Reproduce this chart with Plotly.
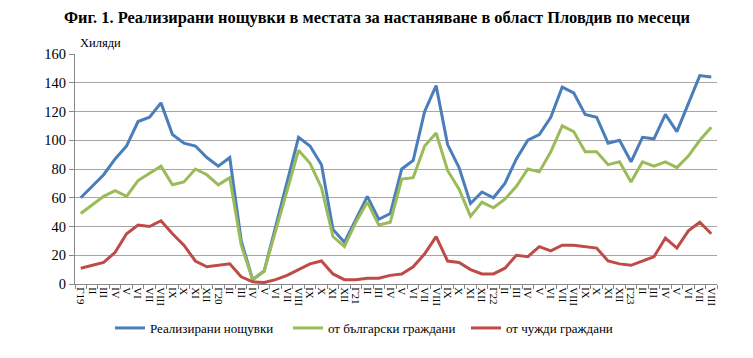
import plotly.graph_objects as go

months = ["I", "II", "III", "IV", "V", "VI", "VII", "VIII", "IX", "X", "XI", "XII"]
years = ["19", "20", "21", "22", "23"]
periods = [f"{y}-{m}" for y in years for m in months][:56]
tick_labels = [("Г" + p.split("-")[0]) if p.endswith("-I") else p.split("-")[1] for p in periods]

total = [60, 68, 76, 87, 96, 113, 116, 126, 104, 98, 96, 88,
         82, 88, 30, 3, 9, 40, 70, 102, 96, 83, 38, 29,
         45, 61, 45, 49, 80, 86, 120, 138, 97, 81, 56, 64,
         60, 70, 87, 100, 104, 116, 137, 133, 118, 116, 98, 100,
         85, 102, 101, 118, 106, 126, 145, 144]
bulgarian = [49, 55, 61, 65, 61, 72, 77, 82, 69, 71, 80, 76,
             69, 74, 27, 3, 9, 37, 65, 93, 84, 67, 33, 26,
             43, 57, 41, 43, 73, 74, 96, 105, 79, 66, 47, 57,
             53, 59, 68, 80, 78, 92, 110, 106, 92, 92, 83, 85,
             71, 85, 82, 85, 81, 89, 100, 109]
foreign = [11, 13, 15, 22, 35, 41, 40, 44, 35, 27, 16, 12,
           13, 14, 5, 1.5, 1, 3, 6, 10, 14, 16, 7, 3,
           3, 4, 4, 6, 7, 12, 21, 33, 16, 15, 10, 7,
           7, 11, 20, 19, 26, 23, 27, 27, 26, 25, 16, 14,
           13, 16, 19, 32, 25, 37, 43, 35]

series = [
    ("Реализирани нощувки", total, "#4A7EBB"),
    ("от български граждани", bulgarian, "#9BBB59"),
    ("от чужди граждани", foreign, "#BE4B48"),
]

SERIF = "Liberation Serif"
W, H = 745, 350  # page body has an 8px margin

fig = go.Figure()
for name, vals, color in series:
    fig.add_trace(go.Scatter(x=periods, y=vals, mode="lines", name=name,
                             line=dict(color=color, width=3)))

fig.update_layout(
    width=W, height=H,
    margin=dict(l=67, r=36, t=46, b=74, autoexpand=False),
    paper_bgcolor="white", plot_bgcolor="white",
    title=dict(text="<b>Фиг. 1. Реализирани нощувки в местата за настаняване в област Пловдив по месеци</b>",
               x=(377 - 8) / W, xanchor="center", xref="container", y=1 - 9 / H, yanchor="middle",
               yref="container", font=dict(family=SERIF, size=16.4, color="black")),
    showlegend=True,
    legend=dict(orientation="h", xref="container", x=102 / W, xanchor="left",
                yref="container", y=1 - 320 / H, yanchor="middle",
                font=dict(family=SERIF, size=13, color="black"),
                entrywidth=133, entrywidthmode="pixels", bgcolor="rgba(0,0,0,0)"),
    font=dict(family=SERIF, color="black"),
)

fig.update_xaxes(type="category", tickmode="array", tickvals=periods, ticktext=tick_labels,
                 tickangle=90, tickfont=dict(family=SERIF, size=11, color="black"),
                 showgrid=False, showline=True, linecolor="#888888", linewidth=1,
                 ticks="outside", ticklen=4, tickcolor="#888888", tickson="boundaries",
                 range=[-0.5, 55.5], automargin=False)
fig.update_yaxes(range=[0, 160], dtick=20, showgrid=True, gridcolor="#A6A6A6", gridwidth=1,
                 showline=True, linecolor="#888888", linewidth=1,
                 ticks="outside", ticklen=5, tickcolor="#888888",
                 tickfont=dict(family=SERIF, size=14.5, color="black"), zeroline=False, automargin=False)

fig.add_annotation(text="Хиляди", xref="paper", yref="paper", x=0.005, y=1.048,
                   xanchor="left", yanchor="middle", showarrow=False,
                   font=dict(family=SERIF, size=12.5, color="black"))

fig.write_html("out.html")
